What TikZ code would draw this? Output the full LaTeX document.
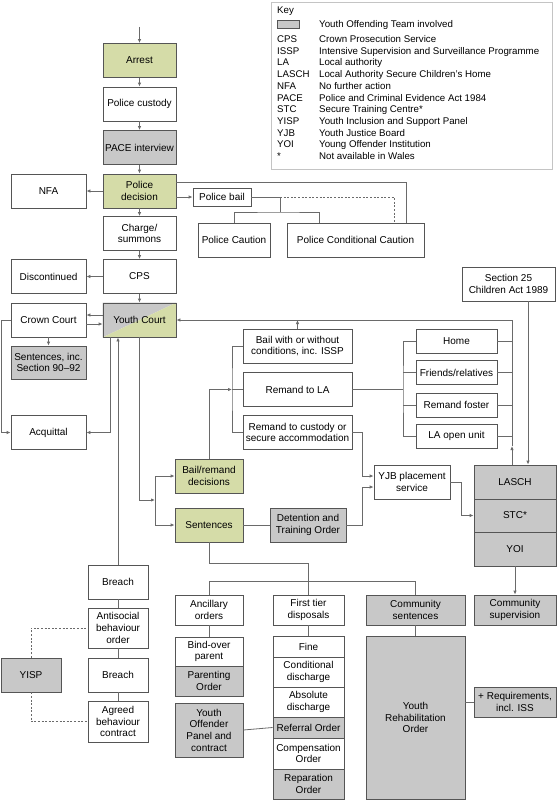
\documentclass[tikz,border=0pt]{standalone}
\usepackage{fontspec}
\setmainfont{Liberation Sans}
\usetikzlibrary{arrows.meta,backgrounds}
\definecolor{grn}{HTML}{D5DCA8}
\definecolor{gry}{HTML}{C8C8C8}
\definecolor{bdr}{HTML}{555555}
\definecolor{lin}{HTML}{6A6A6A}
\definecolor{keyb}{HTML}{C4C4C4}
\begin{document}
\begin{tikzpicture}[x=1pt,y=-1pt,
  bx/.style={draw=bdr, line width=0.8pt, align=center, inner sep=1pt, font=\fontsize{10}{11.7}\selectfont},
  mainb/.style={bx, minimum width=73pt, minimum height=34pt},
  sideb/.style={bx, minimum width=75pt, minimum height=34pt},
  ln/.style={draw=lin, line width=0.8pt},
  arr/.style={ln, -{Latex[length=4pt,width=3.4pt]}},
  dotl/.style={draw=lin, line width=0.8pt, dash pattern=on 2pt off 1.6pt},
  keyt/.style={anchor=base west, inner sep=0pt, font=\fontsize{9.7}{11.7}\selectfont}]
\begin{scope}[on background layer]
\fill[white] (0,0) rectangle (557,800);
\end{scope}
\useasboundingbox (0,0) rectangle (557,800);

% Key
\node[draw=keyb, line width=0.8pt, minimum width=281pt, minimum height=167pt, inner sep=0pt] (key) at (411.5,85.5) {};
\node[keyt] (keyt) at (277,13.5) {Key};
\node[draw=bdr, fill=gry, line width=0.6pt, minimum width=22pt, minimum height=8pt, inner sep=0pt] (sw) at (288,24) {};
\node[keyt] (swd) at (319,28) {Youth Offending Team involved};
\foreach \a/\d [count=\i] in {CPS/Crown Prosecution Service, ISSP/Intensive Supervision and Surveillance Programme, LA/Local authority, LASCH/Local Authority Secure Children’s Home, NFA/No further action, PACE/Police and Criminal Evidence Act 1984, STC/Secure Training Centre*, YISP/Youth Inclusion and Support Panel, YJB/Youth Justice Board, YOI/Young Offender Institution, */Not available in Wales} {
  \node[keyt] (ka\i) at (277,{42.5+(\i-1)*11.7}) {\a};
  \node[keyt] (kd\i) at (319,{42.5+(\i-1)*11.7}) {\d};
}

% main column
\node[mainb, fill=grn] (arrest) at (139.5,60.5) {Arrest};
\node[mainb] (custody) at (139.5,104) {Police custody};
\node[mainb, fill=gry] (pace) at (139.5,147.5) {PACE interview};
\node[mainb, fill=grn] (decision) at (139.5,191) {Police\\decision};
\node[mainb] (charge) at (139.5,233.5) {Charge/\\summons};
\node[mainb] (cps) at (139.5,276.5) {CPS};
\node[mainb] (yc) at (139.5,320) {Youth Court};
\begin{scope}[on background layer]
\fill[gry] (yc.south west) -- (yc.north west) -- (yc.north east) -- cycle;
\fill[grn] (yc.south west) -- (yc.north east) -- (yc.south east) -- cycle;
\end{scope}

% left column
\node[sideb] (nfa) at (48.5,191) {NFA};
\node[sideb] (disc) at (48.5,276.5) {Discontinued};
\node[sideb] (crown) at (48.5,320) {Crown Court};
\node[sideb, fill=gry, minimum height=33pt] (sentinc) at (48.5,362.5) {Sentences, inc.\\Section 90–92};
\node[sideb] (acq) at (48.5,432.5) {Acquittal};

% police outcomes
\node[bx, minimum width=58pt, minimum height=18pt] (bail) at (222,197) {Police bail};
\node[bx, minimum width=72pt, minimum height=34pt] (caution) at (234,240) {Police Caution};
\node[bx, minimum width=137pt, minimum height=34pt] (pcc) at (355.5,240) {Police Conditional Caution};

% decisions
\node[bx, fill=grn, minimum width=68pt, minimum height=34pt] (bailremand) at (209,476) {Bail/remand\\decisions};
\node[bx, fill=grn, minimum width=68pt, minimum height=34pt] (sentences) at (209,525) {Sentences};
\node[bx, fill=gry, minimum width=76pt, minimum height=34pt] (dto) at (308,525) {Detention and\\Training Order};
\node[bx, minimum width=109pt, minimum height=34pt] (bailwith) at (297.5,346) {Bail with or without\\conditions, inc. ISSP};
\node[bx, minimum width=109pt, minimum height=34pt] (remandla) at (297.5,389.5) {Remand to LA};
\node[bx, minimum width=109pt, minimum height=34pt] (remandcust) at (297.5,432.5) {Remand to custody or\\secure accommodation};
\node[bx, minimum width=76pt, minimum height=34pt] (yjb) at (412,482) {YJB placement\\service};

% LA placements
\node[bx, minimum width=81pt, minimum height=24pt] (home) at (456.5,341) {Home};
\node[bx, minimum width=81pt, minimum height=24pt] (friends) at (456.5,372.5) {Friends/relatives};
\node[bx, minimum width=81pt, minimum height=24pt] (foster) at (456.5,405) {Remand foster};
\node[bx, minimum width=81pt, minimum height=24pt] (laopen) at (456.5,436) {LA open unit};
\node[bx, minimum width=93pt, minimum height=34pt] (sec25) at (508.5,284) {Section 25\\Children Act 1989};

% secure estate
\node[bx, fill=gry, minimum width=82pt, minimum height=34pt] (lasch) at (515,482) {LASCH};
\node[bx, fill=gry, minimum width=82pt, minimum height=33pt] (stc) at (515,515.5) {STC*};
\node[bx, fill=gry, minimum width=82pt, minimum height=34pt] (yoi) at (515,549) {YOI};
\node[bx, fill=gry, minimum width=82pt, minimum height=30pt] (commsup) at (515,610) {Community\\supervision};

% sentence types
\node[bx, minimum width=68pt, minimum height=30pt] (ancillary) at (209,610) {Ancillary\\orders};
\node[bx, minimum width=71pt, minimum height=30pt] (firsttier) at (308.5,610) {First tier\\disposals};
\node[bx, fill=gry, minimum width=99pt, minimum height=30pt] (commsent) at (415.5,610) {Community\\sentences};

\node[bx, minimum width=68pt, minimum height=29pt] (bindover) at (209,651.5) {Bind-over\\parent};
\node[bx, fill=gry, minimum width=68pt, minimum height=30pt] (parenting) at (209,681) {Parenting\\Order};
\node[bx, fill=gry, minimum width=68pt, minimum height=54pt] (yop) at (209,730) {Youth\\Offender\\Panel and\\contract};

\node[bx, minimum width=71pt, minimum height=21pt] (fine) at (308.5,646.5) {Fine};
\node[bx, minimum width=71pt, minimum height=30pt] (cond) at (308.5,672) {Conditional\\discharge};
\node[bx, minimum width=71pt, minimum height=30pt] (absd) at (308.5,702) {Absolute\\discharge};
\node[bx, fill=gry, minimum width=71pt, minimum height=21pt] (referral) at (308.5,727.5) {Referral Order};
\node[bx, minimum width=71pt, minimum height=31pt] (comp) at (308.5,753.5) {Compensation\\Order};
\node[bx, fill=gry, minimum width=71pt, minimum height=30pt] (repar) at (308.5,784) {Reparation\\Order};

\node[bx, fill=gry, minimum width=99pt, minimum height=163pt] (yro) at (415.5,717.5) {Youth\\Rehabilitation\\Order};
\node[bx, fill=gry, minimum width=82pt, minimum height=30pt] (req) at (515,702) {+ Requirements,\\incl. ISS};

% antisocial behaviour
\node[bx, minimum width=60pt, minimum height=34pt] (breach1) at (118,582) {Breach};
\node[bx, minimum width=60pt, minimum height=40pt] (asbo) at (118,628) {Antisocial\\behaviour\\order};
\node[bx, minimum width=60pt, minimum height=34pt] (breach2) at (118,675) {Breach};
\node[bx, minimum width=60pt, minimum height=41pt] (abc) at (118,721.5) {Agreed\\behaviour\\contract};
\node[bx, fill=gry, minimum width=60pt, minimum height=34pt] (yisp) at (31,675) {YISP};

% connectors: main column
\coordinate (start) at (139.5,27);
\draw[arr] (start) -- (arrest);
\draw[arr] (arrest) -- (custody);
\draw[arr] (custody) -- (pace);
\draw[arr] (pace) -- (decision);
\draw[arr] (decision) -- (charge);
\draw[arr] (charge) -- (cps);
\draw[arr] (cps) -- (yc);
\draw[arr] (decision) -- (nfa);
\draw[arr] (decision.east |- bail.west) -- (bail.west);
\draw[ln] ([yshift=9pt]decision.east) -| ([xshift=50.5pt]pcc.north);
\coordinate (bj) at (280,197);
\coordinate (bj2) at (280,212);
\draw[ln] (bail.east) -- (bj) -- (bj2);
\draw[ln] (caution.north) |- (bj2) -| ([xshift=-36.5pt]pcc.north);
\draw[dotl] (bj) -| ([xshift=38.5pt]pcc.north);

% courts
\draw[arr] (cps) -- (disc);
\draw[arr] ([yshift=5pt]yc.west) -- ([yshift=5pt]crown.east);
\draw[arr] ([yshift=-4pt]crown.east) -- ([yshift=-4pt]yc.west);
\draw[arr] (crown) -- (sentinc);
\draw[arr] (crown.west) -- ++(-9,0) |- (acq.west);
\draw[arr] ([xshift=-29.5pt]yc.south) |- (acq.east);
\draw[arr] (breach1.north) -- (breach1.north |- yc.south);

% decisions
\coordinate (j1) at (155,500);
\draw[arr] (yc.south) |- (j1);
\draw[arr] (j1) |- (bailremand.west);
\draw[arr] (j1) |- (sentences.west);
\coordinate (j2) at (232,389.5);
\draw[arr] (bailremand.north) |- (j2);
\draw[ln] (bailwith.west) -| (j2) |- (remandcust.west);
\draw[ln] (j2) -- (remandla.west);
\draw[arr] (bailwith.north) -- (bailwith.north |- yc.east);
\coordinate (rj) at (512,446);
\draw[arr] ([xshift=-3pt]lasch.north) -- (rj);
\draw[arr] (rj) |- (yc.east);
\foreach \n in {home,friends,foster,laopen} \draw[ln] (\n.east) -- (\n.east -| rj);
\coordinate (lg) at (403,389.5);
\draw[ln] (remandla.east) -- (lg);
\draw[ln] (home.west) -| (lg) |- (laopen.west);
\draw[ln] (friends.west) -- (friends.west -| lg);
\draw[ln] (foster.west) -- (foster.west -| lg);
\draw[arr] ([xshift=19.5pt]sec25.south) -- ([xshift=13pt]lasch.north);
\draw[arr] (remandcust.east) -- ++(10,0) |- ([yshift=6pt]yjb.west);
\draw[arr] (dto.east) -- ++(16,0) |- ([yshift=-5pt]yjb.west);
\draw[ln] (sentences) -- (dto);
\draw[arr] (yjb.east) -- ++(11,0) |- (stc.west);
\draw[arr] (yoi) -- (commsup);

% sentences tree
\draw[ln] (sentences.south) -- ++(0,21) -| (firsttier.north);
\draw[ln] (ancillary.north) -- ++(0,-13) -| (commsent.north);
\draw[ln] (firsttier) -- (fine);
\draw[ln] (commsent) -- (yro);
\draw[ln] (ancillary) -- (bindover);
\draw[ln] (yop.east) -- (referral.west);
\draw[ln] ([yshift=15.5pt]yro.east) -- (req.west);

% ASBO chain
\draw[ln] (breach1) -- (asbo);
\draw[ln] (asbo) -- (breach2);
\draw[ln] (breach2) -- (abc);
\draw[dotl] (yisp.north) |- (asbo.west);
\draw[dotl] (yisp.south) |- (abc.west);
\end{tikzpicture}
\end{document}
